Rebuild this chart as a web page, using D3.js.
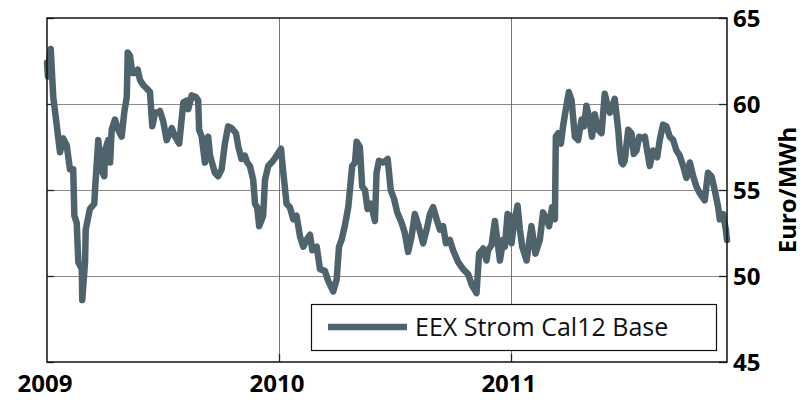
<!DOCTYPE html>
<html>
<head>
<meta charset="utf-8">
<title>EEX Strom Cal12 Base</title>
<script src="https://d3js.org/d3.v7.min.js"></script>
<style>
html, body {
	margin: 0;
	padding: 0;
	background: #fff;
}
#chart {
	width: 803px;
	height: 400px;
}
</style>
</head>
<body>
<div id="chart"></div>
<script>
	// series label, axis ticks
	var seriesName = "EEX Strom Cal12 Base";
	var yTicks = [45, 50, 55, 60, 65];
	var xTicks = [2009, 2010, 2011];
	var yTitle = "Euro/MWh";

	// [year as decimal, price in Euro/MWh]
	var obs = [
		[2009.000, 62.4], [2009.004, 61.6], [2009.010, 62.5], [2009.016, 63.2], [2009.027, 60.4],
		[2009.039, 59.1], [2009.056, 57.2], [2009.070, 58.0], [2009.085, 57.6], [2009.099, 56.2],
		[2009.113, 56.2], [2009.118, 53.5], [2009.128, 53.1], [2009.135, 50.8], [2009.150, 50.4],
		[2009.152, 48.6], [2009.164, 50.8], [2009.167, 52.7], [2009.185, 53.9], [2009.204, 54.2],
		[2009.207, 55.0], [2009.221, 57.9], [2009.233, 56.2], [2009.247, 55.8], [2009.250, 57.3],
		[2009.264, 57.9], [2009.272, 56.6], [2009.279, 58.5], [2009.293, 59.1], [2009.307, 58.5],
		[2009.322, 58.1], [2009.333, 59.5], [2009.344, 60.4], [2009.348, 63.0], [2009.358, 62.8],
		[2009.368, 61.8], [2009.379, 61.8], [2009.391, 62.0], [2009.401, 61.4], [2009.415, 61.1],
		[2009.430, 60.9], [2009.444, 60.7], [2009.454, 58.7], [2009.466, 59.5], [2009.480, 59.5],
		[2009.487, 59.6], [2009.501, 59.0], [2009.516, 57.9], [2009.538, 58.6], [2009.552, 58.1],
		[2009.570, 57.7], [2009.588, 60.1], [2009.602, 60.2], [2009.609, 59.7], [2009.624, 60.5],
		[2009.642, 60.4], [2009.652, 60.2], [2009.656, 58.5], [2009.667, 58.1], [2009.681, 56.6],
		[2009.695, 58.1], [2009.703, 57.0], [2009.724, 56.0], [2009.738, 55.8], [2009.753, 56.2],
		[2009.767, 57.7], [2009.781, 58.7], [2009.796, 58.6], [2009.815, 58.3], [2009.825, 57.5],
		[2009.839, 56.8], [2009.853, 57.0], [2009.863, 56.6], [2009.875, 56.4], [2009.889, 55.6],
		[2009.897, 54.2], [2009.906, 54.0], [2009.915, 52.9], [2009.932, 53.5], [2009.940, 55.6],
		[2009.954, 56.4], [2009.975, 56.7], [2009.990, 57.0], [2010.009, 57.4], [2010.019, 56.0],
		[2010.033, 54.2], [2010.047, 54.0], [2010.062, 53.3], [2010.076, 53.5], [2010.091, 52.3],
		[2010.105, 51.7], [2010.119, 52.1], [2010.134, 52.4], [2010.144, 51.5], [2010.163, 51.7],
		[2010.177, 50.4], [2010.198, 50.3], [2010.213, 49.7], [2010.234, 49.1], [2010.249, 49.8],
		[2010.259, 51.7], [2010.270, 52.1], [2010.284, 52.9], [2010.299, 54.0], [2010.316, 56.4],
		[2010.328, 56.6], [2010.335, 57.8], [2010.349, 57.5], [2010.359, 55.2], [2010.371, 55.0],
		[2010.382, 53.9], [2010.397, 54.2], [2010.414, 53.2], [2010.421, 56.0], [2010.431, 56.7],
		[2010.450, 56.6], [2010.469, 56.8], [2010.482, 55.0], [2010.496, 54.5], [2010.510, 53.7],
		[2010.529, 53.1], [2010.543, 52.5], [2010.557, 51.4], [2010.572, 52.3], [2010.586, 53.6],
		[2010.600, 53.0], [2010.622, 51.9], [2010.637, 52.7], [2010.651, 53.6], [2010.665, 54.0],
		[2010.680, 53.3], [2010.694, 52.7], [2010.708, 52.9], [2010.720, 51.9], [2010.737, 52.1],
		[2010.751, 51.5], [2010.773, 50.8], [2010.794, 50.4], [2010.816, 50.1], [2010.831, 49.5],
		[2010.852, 49.0], [2010.863, 51.3], [2010.881, 51.6], [2010.895, 50.9], [2010.902, 51.5],
		[2010.917, 51.8], [2010.931, 53.2], [2010.953, 50.9], [2010.967, 52.1], [2010.974, 51.7],
		[2010.986, 53.6], [2010.996, 53.5], [2011.003, 51.9], [2011.014, 53.1], [2011.029, 54.1],
		[2011.039, 52.7], [2011.049, 51.7], [2011.068, 50.9], [2011.078, 51.9], [2011.089, 52.9],
		[2011.106, 51.3], [2011.125, 52.1], [2011.139, 53.7], [2011.154, 53.3], [2011.165, 52.9],
		[2011.178, 54.0], [2011.190, 53.3], [2011.194, 58.1], [2011.204, 58.3], [2011.216, 57.7],
		[2011.225, 58.7], [2011.237, 59.7], [2011.250, 60.7], [2011.262, 60.2], [2011.276, 58.1],
		[2011.290, 57.9], [2011.305, 59.1], [2011.315, 58.7], [2011.326, 59.9], [2011.336, 59.3],
		[2011.350, 58.1], [2011.362, 59.4], [2011.376, 58.5], [2011.391, 58.3], [2011.405, 60.6],
		[2011.417, 59.9], [2011.427, 59.5], [2011.448, 60.3], [2011.463, 58.5], [2011.470, 57.3],
		[2011.477, 56.6], [2011.484, 56.5], [2011.491, 56.7], [2011.506, 58.5], [2011.520, 58.3],
		[2011.530, 57.1], [2011.542, 57.3], [2011.553, 58.1], [2011.568, 58.0], [2011.578, 58.1],
		[2011.585, 57.5], [2011.599, 56.4], [2011.613, 57.3], [2011.631, 56.9], [2011.642, 57.9],
		[2011.656, 58.8], [2011.671, 58.7], [2011.685, 58.1], [2011.700, 57.9], [2011.714, 57.3],
		[2011.728, 57.0], [2011.743, 56.4], [2011.757, 55.7], [2011.772, 56.6], [2011.786, 55.8],
		[2011.800, 55.2], [2011.815, 54.8], [2011.836, 54.4], [2011.850, 56.0], [2011.865, 55.8],
		[2011.879, 55.0], [2011.894, 54.0], [2011.901, 53.3], [2011.915, 53.6], [2011.927, 52.7],
		[2011.932, 52.1]
	];

	var width = 803, height = 400;
	var margin = {top: 18, right: 76, bottom: 38, left: 47};
	var lineColor = "#4f636c";
	var font = "'Open Sans', 'DejaVu Sans', sans-serif";

	var x = d3.scaleLinear()
		.domain([2009, obs[obs.length - 1][0]])
		.range([margin.left, width - margin.right]);

	var y = d3.scaleLinear()
		.domain([45, 65])
		.range([height - margin.bottom, margin.top]);

	var svg = d3.select("#chart").append("svg")
		.attr("width", width)
		.attr("height", height)
		.style("font-family", font);

	// horizontal grid
	svg.append("g")
		.selectAll("line")
		.data(yTicks.filter(d => d > 45 && d < 65))
		.join("line")
			.attr("x1", x.range()[0])
			.attr("x2", x.range()[1])
			.attr("y1", d => y(d) + 0.5)
			.attr("y2", d => y(d) + 0.5)
			.attr("stroke", "#8a8a8a")
			.attr("stroke-width", 1);

	// vertical grid
	svg.append("g")
		.selectAll("line")
		.data(xTicks.slice(1))
		.join("line")
			.attr("x1", d => Math.round(x(d)) + 0.5)
			.attr("x2", d => Math.round(x(d)) + 0.5)
			.attr("y1", y.range()[1])
			.attr("y2", y.range()[0])
			.attr("stroke", "#555")
			.attr("stroke-width", 0.8);

	// inner tick marks, both sides
	var tickG = svg.append("g").attr("stroke", "#222").attr("stroke-width", 1.3);
	tickG.selectAll(".tl")
		.data(yTicks)
		.join("line")
			.attr("x1", x.range()[0])
			.attr("x2", x.range()[0] + 7)
			.attr("y1", d => y(d) + 0.5)
			.attr("y2", d => y(d) + 0.5);
	tickG.selectAll(".tr")
		.data(yTicks)
		.join("line")
			.attr("class", "tr")
			.attr("x1", x.range()[1] - 8)
			.attr("x2", x.range()[1])
			.attr("y1", d => y(d) + 0.5)
			.attr("y2", d => y(d) + 0.5);
	tickG.selectAll(".tb")
		.data(xTicks.slice(1))
		.join("line")
			.attr("class", "tb")
			.attr("x1", d => Math.round(x(d)) + 0.5)
			.attr("x2", d => Math.round(x(d)) + 0.5)
			.attr("y1", y.range()[0] - 8)
			.attr("y2", y.range()[0]);

	// the series
	var line = d3.line()
		.x(d => x(d[0]))
		.y(d => y(d[1]));

	svg.append("path")
		.datum(obs)
		.attr("fill", "none")
		.attr("stroke", lineColor)
		.attr("stroke-width", 6.5)
		.attr("stroke-linejoin", "round")
		.attr("stroke-linecap", "round")
		.attr("d", line);

	// frame
	svg.append("rect")
		.attr("x", x.range()[0])
		.attr("y", y.range()[1])
		.attr("width", x.range()[1] - x.range()[0])
		.attr("height", y.range()[0] - y.range()[1])
		.attr("fill", "none")
		.attr("stroke", "#111")
		.attr("stroke-width", 1.5);

	// right axis labels
	svg.append("g")
		.selectAll("text")
		.data(yTicks)
		.join("text")
			.attr("x", x.range()[1] + 6)
			.attr("y", d => y(d))
			.attr("dy", "0.36em")
			.attr("font-size", 24)
			.attr("font-weight", "bold")
			.text(d => d);

	// bottom axis labels
	svg.append("g")
		.selectAll("text")
		.data(xTicks)
		.join("text")
			.attr("x", d => x(d) - 2)
			.attr("y", 392)
			.attr("text-anchor", "middle")
			.attr("font-size", 24)
			.attr("font-weight", "bold")
			.text(d => d);

	// y title
	svg.append("text")
		.attr("transform", `translate(796,${(y.range()[0] + y.range()[1]) / 2}) rotate(-90)`)
		.attr("text-anchor", "middle")
		.attr("font-size", 24)
		.attr("font-weight", "bold")
		.text(yTitle);

	// legend
	var lg = svg.append("g");
	lg.append("rect")
		.attr("x", 311.5)
		.attr("y", 304.5)
		.attr("width", 405)
		.attr("height", 46)
		.attr("fill", "#fff")
		.attr("stroke", "#111")
		.attr("stroke-width", 1.2);
	lg.append("line")
		.attr("x1", 328)
		.attr("x2", 407)
		.attr("y1", 327)
		.attr("y2", 327)
		.attr("stroke", lineColor)
		.attr("stroke-width", 6.5);
	lg.append("text")
		.attr("x", 415)
		.attr("y", 327)
		.attr("dy", "0.36em")
		.attr("font-size", 25)
		.attr("fill", "#111")
		.text(seriesName);
</script>
</body>
</html>
